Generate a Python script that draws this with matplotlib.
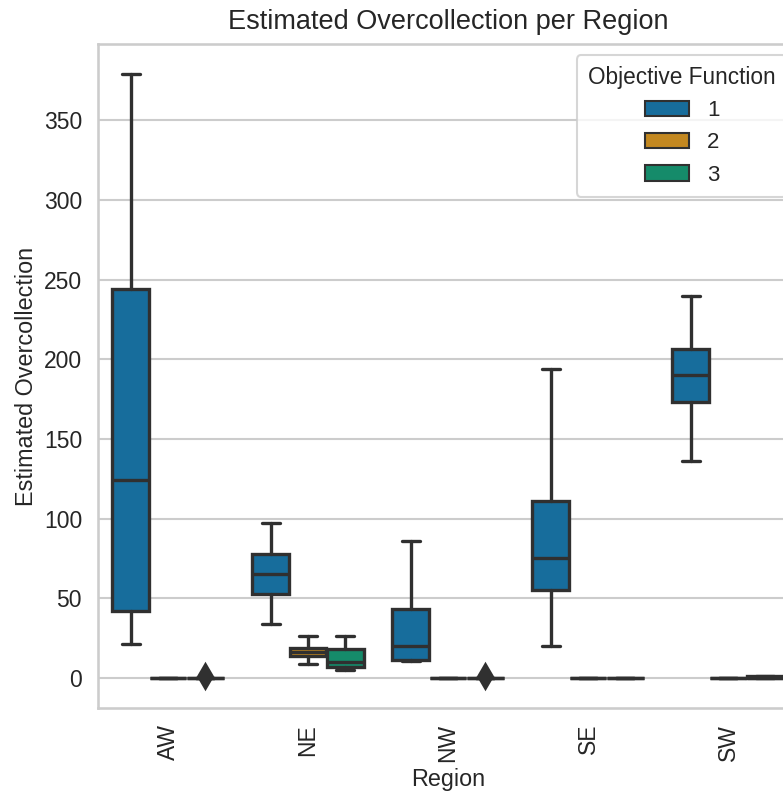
import colorsys
import numpy as np
import matplotlib
matplotlib.use('Agg')
import matplotlib.pyplot as plt
from matplotlib.patches import Rectangle
import seaborn as sns

regions = ['AW', 'NE', 'NW', 'SE', 'SW']
objectives = ['1', '2', '3']

# box summaries; rows = region, cols = objective function
whislo = [[21, 0, 0], [34, 8.5, 5], [10.5, 0, 0], [20, 0, 0], [136, 0, 0]]
q1 = [[42, 0, 0], [52.5, 13.5, 6.7], [11.5, 0, 0], [55, 0, 0], [173, 0, 0]]
med = [[124, 0, 0], [65, 16, 10], [20, 0, 0], [75, 0, 0], [190, 0, 0]]
q3 = [[244, 0, 0], [78, 18.5, 18], [43, 0, 0], [111, 0, 0], [206.5, 0, 1]]
whishi = [[379, 0, 0], [97, 26, 26], [86, 0, 0], [194, 0, 0], [240, 0, 1]]
fliers = [[[], [], [1]], [[], [], []], [[], [], [1]], [[], [], []], [[], [], []]]

sns.set_theme(style='whitegrid', context='talk')
plt.rcParams['font.family'] = ['Liberation Sans', 'DejaVu Sans']
plt.rcParams.update({
    'xtick.labelsize': 16.5, 'ytick.labelsize': 16.5,
    'axes.labelsize': 16.8, 'axes.titlesize': 19.5, 'axes.titlepad': 11,
    'legend.fontsize': 16, 'legend.title_fontsize': 16.3,
    'xtick.major.pad': 2.5, 'ytick.major.pad': 2.5,
})

pal = sns.color_palette('colorblind', len(objectives))
lum = min(colorsys.rgb_to_hls(*c)[1] for c in pal) * 0.6
gray = (lum, lum, lum)
lw = 2.4

fig = plt.figure(figsize=(7.83, 7.94), dpi=100)
# the original axes runs past the right edge of the saved image
ax = fig.add_axes([98 / 783, 86 / 794, 700 / 783, 664 / 794])

n = len(objectives)
each = 0.8 / n
offsets = np.linspace(0, 0.8 - each, n) - (0.8 - each) / 2
handles = []
for j, obj in enumerate(objectives):
    face = sns.desaturate(pal[j], 0.75)
    stats = []
    for i in range(len(regions)):
        stats.append(dict(whislo=whislo[i][j], q1=q1[i][j], med=med[i][j],
                          q3=q3[i][j], whishi=whishi[i][j], fliers=fliers[i][j]))
    ax.bxp(stats, positions=np.arange(len(regions)) + offsets[j],
           widths=each * 0.98, patch_artist=True, manage_ticks=False,
           boxprops=dict(facecolor=face, edgecolor=gray, linewidth=lw),
           whiskerprops=dict(color=gray, linewidth=lw),
           capprops=dict(color=gray, linewidth=lw),
           medianprops=dict(color=gray, linewidth=lw),
           flierprops=dict(marker='d', markerfacecolor=gray, markeredgecolor=gray,
                           markersize=12, markeredgewidth=2, linestyle='none'))
    handles.append(Rectangle((0, 0), 0, 0, facecolor=face, edgecolor=gray,
                             linewidth=1.5, label=obj))

ax.set_xlim(-0.5, len(regions) - 0.5)
ax.set_xticks(range(len(regions)))
ax.set_xticklabels(regions, rotation=90)
ax.xaxis.grid(False)
ax.set_xlabel('Region')
ax.set_ylabel('Estimated Overcollection', labelpad=4)
ax.set_title('Estimated Overcollection per Region')
ax.legend(handles=handles, title='Objective Function', loc='upper right',
          borderpad=0.5)

fig.savefig('out.png', dpi=100)
